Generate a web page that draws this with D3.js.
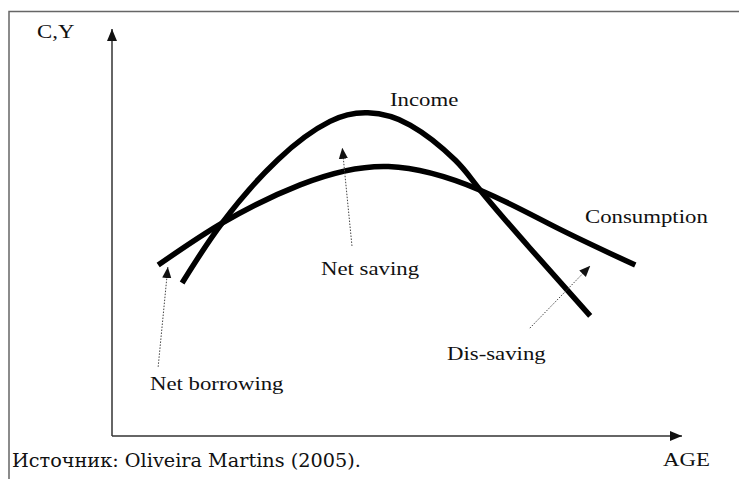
<!DOCTYPE html>
<html><head><meta charset="utf-8">
<script src="https://cdn.jsdelivr.net/npm/d3@7"></script>
<style>
html,body{margin:0;padding:0;background:#fff;}
svg{display:block;}
</style></head>
<body>
<svg id="c" width="739" height="479"></svg>
<script>
// Data (abstract units: age 0..100, value 0..100)
const incomeAge   = [12.3, 19.3, 29.1, 38.25, 44.9, 52.3, 60.2, 64.6, 73.3, 83.9];
const incomeVal   = [37.6, 52.3, 67.9, 77.3, 79.4, 76.4, 67.8, 60.4, 46.2, 29.5];
const consAge     = [8.1, 19.3, 33.0, 48.5, 64.6, 78.0, 91.8];
const consVal     = [42.0, 52.3, 61.7, 66.2, 60.4, 51.2, 42.0];
const seriesNames = ["Income", "Consumption"];
const annotations = ["Net saving", "Net borrowing", "Dis-saving"];
// arrows: [age, value] of tail and head
const arrowFrom   = [[42.1, 46.7], [8.1, 17.0], [73.3, 26.5]];
const arrowTo     = [[40.4, 70.8], [9.8, 41.5], [83.9, 41.8]];
const axisLabels  = ["C,Y", "AGE"];
const sourceText  = "Источник: Oliveira Martins (2005).";

const SERIF = '"Liberation Serif", "Times New Roman", Times, "DejaVu Serif", serif';
const svg = d3.select("#c");
const x = d3.scaleLinear().domain([0, 100]).range([112, 682]);
const y = d3.scaleLinear().domain([0, 100]).range([436, 29]);

// frame
svg.append("path").attr("d", "M9,479V11.5H745").attr("fill","none").attr("stroke","#666").attr("stroke-width",1.5);

const defs = svg.append("defs");
defs.append("marker").attr("id","ax").attr("viewBox","0 0 12 10").attr("refX",12).attr("refY",5)
  .attr("markerWidth",12).attr("markerHeight",10).attr("markerUnits","userSpaceOnUse").attr("orient","auto")
  .append("path").attr("d","M0,0L12,5L0,10Z").attr("fill","#111");
defs.append("marker").attr("id","sm").attr("viewBox","0 0 12 10").attr("refX",12).attr("refY",5)
  .attr("markerWidth",11).attr("markerHeight",10).attr("markerUnits","userSpaceOnUse").attr("orient","auto")
  .append("path").attr("d","M0,0L12,5L0,10Z").attr("fill","#111");

// axes
svg.append("line").attr("x1",x(0)).attr("y1",y(0)).attr("x2",x(0)).attr("y2",y(100))
  .attr("stroke","#333").attr("stroke-width",1.5).attr("marker-end","url(#ax)");
svg.append("line").attr("x1",x(0)).attr("y1",y(0)).attr("x2",x(100)).attr("y2",y(0))
  .attr("stroke","#333").attr("stroke-width",1.5).attr("marker-end","url(#ax)");

// curves
const line = d3.line().x(d=>x(d[0])).y(d=>y(d[1])).curve(d3.curveNatural);
const inc = incomeAge.map((a,i)=>[a, incomeVal[i]]);
const con = consAge.map((a,i)=>[a, consVal[i]]);
[inc, con].forEach(s=>{
  svg.append("path").attr("d", line(s)).attr("fill","none").attr("stroke","#000").attr("stroke-width",5.5);
});

// annotation arrows
arrowFrom.forEach((f,i)=>{
  svg.append("line").attr("x1",x(f[0])).attr("y1",y(f[1])).attr("x2",x(arrowTo[i][0])).attr("y2",y(arrowTo[i][1]))
    .attr("stroke","#444").attr("stroke-width",1).attr("stroke-dasharray","1.5,1.5").attr("marker-end","url(#sm)");
});

// labels with horizontal stretch
const stretch = 1.2;
function lbl(t, px, py){
  const g = svg.append("g").attr("transform",`translate(${px},${py}) scale(${stretch},1)`);
  g.append("text").attr("font-family", SERIF).attr("font-size", 19).attr("fill","#111").text(t);
}
lbl(axisLabels[0], 37, 38);
lbl(axisLabels[1], 663, 466);
lbl(seriesNames[0], 390, 106);
lbl(seriesNames[1], 585, 223);
lbl(annotations[0], 321, 275);
lbl(annotations[1], 150, 390);
lbl(annotations[2], 447, 360);

svg.append("g").attr("transform","translate(12,467) scale(1.07,1)")
  .append("text").attr("font-family", '"DejaVu Serif", "Liberation Serif", Georgia, serif')
  .attr("font-size", 18).attr("fill","#111").text(sourceText);
</script>
</body></html>
